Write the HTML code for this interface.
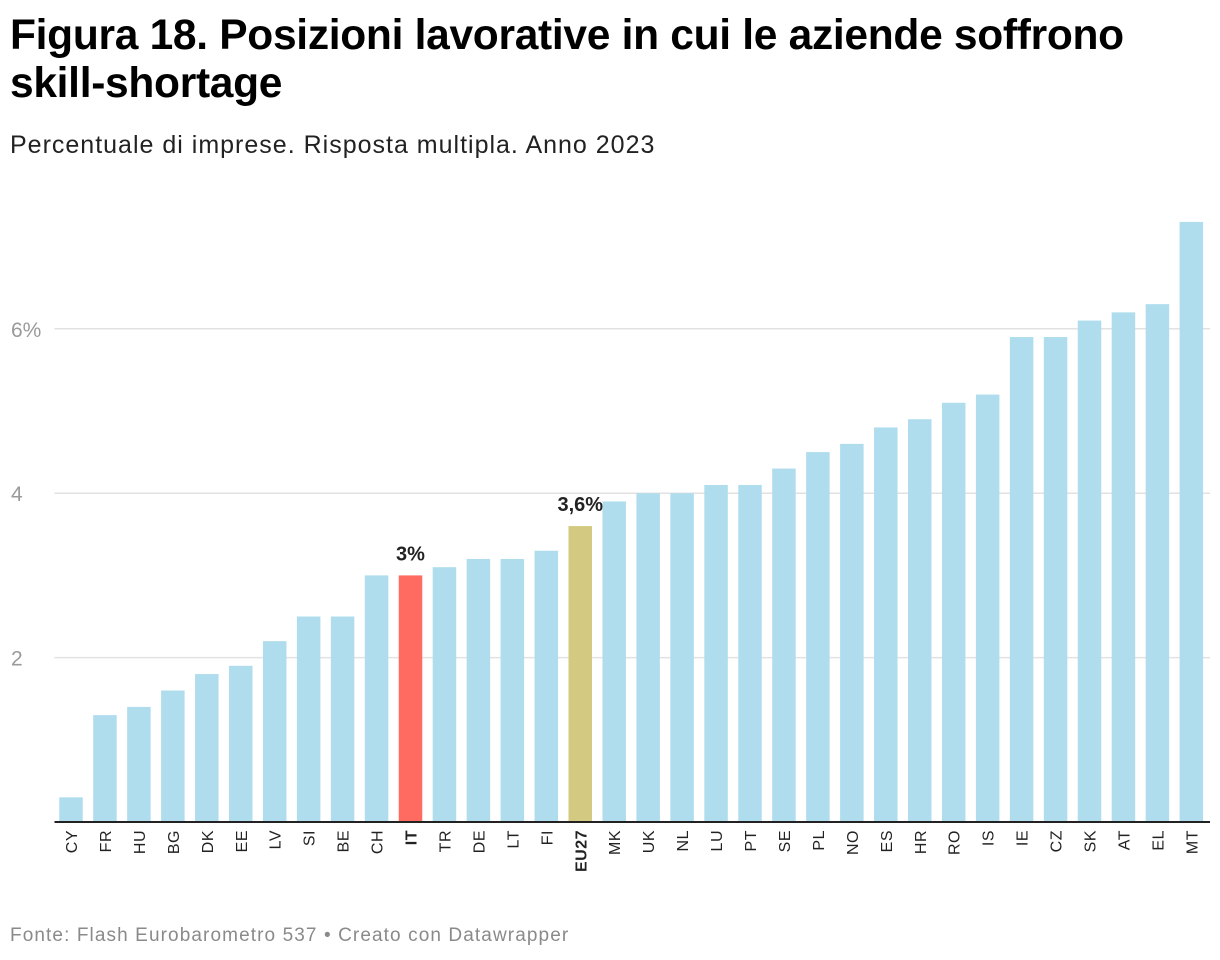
<!DOCTYPE html>
<html><head><meta charset="utf-8"><style>
body{margin:0;background:#fff;font-family:"Liberation Sans",Arial,sans-serif;}
#wrap{position:relative;width:1220px;height:960px;overflow:hidden;}
h1{position:absolute;left:10px;top:12px;margin:0;font-size:42.5px;line-height:48px;font-weight:bold;color:#000;letter-spacing:-0.3px;}
.sub{position:absolute;left:10px;top:131px;font-size:25px;color:#222;letter-spacing:1px;}
.foot{position:absolute;left:10px;top:925px;font-size:19px;color:#8a8a8a;letter-spacing:1.1px;}
</style></head><body>
<div id="wrap">
<h1>Figura 18. Posizioni lavorative in cui le aziende soffrono<br>skill-shortage</h1>
<div class="sub">Percentuale di imprese. Risposta multipla. Anno 2023</div>
<svg id="chart" width="1220" height="960" style="position:absolute;left:0;top:0"></svg>
<div class="foot">Fonte: Flash Eurobarometro 537 • Creato con Datawrapper</div>
</div>
<script>
const categories=["CY","FR","HU","BG","DK","EE","LV","SI","BE","CH","IT","TR","DE","LT","FI","EU27","MK","UK","NL","LU","PT","SE","PL","NO","ES","HR","RO","IS","IE","CZ","SK","AT","EL","MT"];
const values=[0.3,1.3,1.4,1.6,1.8,1.9,2.2,2.5,2.5,3.0,3.0,3.1,3.2,3.2,3.3,3.6,3.9,4.0,4.0,4.1,4.1,4.3,4.5,4.6,4.8,4.9,5.1,5.2,5.9,5.9,6.1,6.2,6.3,7.3];
const tickValues=[2,4,6];
const tickLabels=["2","4","6%"];
const highlights={"IT":{color:"#ff6b61",label:"3%"},"EU27":{color:"#d3c980",label:"3,6%"}};
const NS="http://www.w3.org/2000/svg";
const svg=document.getElementById('chart');
const x0=54.5,x1=1210,yBase=822,pxPerUnit=82.2,step=33.95,barW=23.5,firstCenter=71;
function y(v){return yBase-v*pxPerUnit;}
function xc(i){return firstCenter+i*step;}
function mk(t,a){const e=document.createElementNS(NS,t);for(const k in a)e.setAttribute(k,a[k]);svg.appendChild(e);return e;}
tickValues.forEach((t,i)=>{
  const g=mk('line',{x1:x0,x2:x1,y1:y(t),y2:y(t),stroke:'#e2e2e2','stroke-width':1.5});
  
  
  const tx=mk('text',{x:11,y:y(t)+8,'font-size':21,fill:'#9a9a9a','font-family':'Liberation Sans, sans-serif'});
  tx.textContent=tickLabels[i];
  
  
});
categories.forEach((c,i)=>{
  const h=highlights[c];
  const r=mk('rect',{x:xc(i)-barW/2,y:y(values[i]),width:barW,height:values[i]*pxPerUnit,fill:h?h.color:'#afdded'});
  
  
  const l=mk('text',{transform:`translate(${xc(i)+6},${yBase+8}) rotate(-90)`,'text-anchor':'end','font-size':16,fill:'#222','font-weight':h?'bold':'normal','font-family':'Liberation Sans, sans-serif','letter-spacing':0.5});
  l.textContent=c;
  
  
  if(h){
    const v=mk('text',{x:xc(i),y:y(values[i])-15,'text-anchor':'middle','font-size':20,'font-weight':'bold',fill:'#222','font-family':'Liberation Sans, sans-serif',stroke:'#fff','stroke-width':4,'paint-order':'stroke'});
    v.textContent=h.label;
    
    
  }
});
const ax=mk('line',{x1:x0,x2:x1,y1:yBase,y2:yBase,stroke:'#222','stroke-width':2});


</script>
</body></html>
